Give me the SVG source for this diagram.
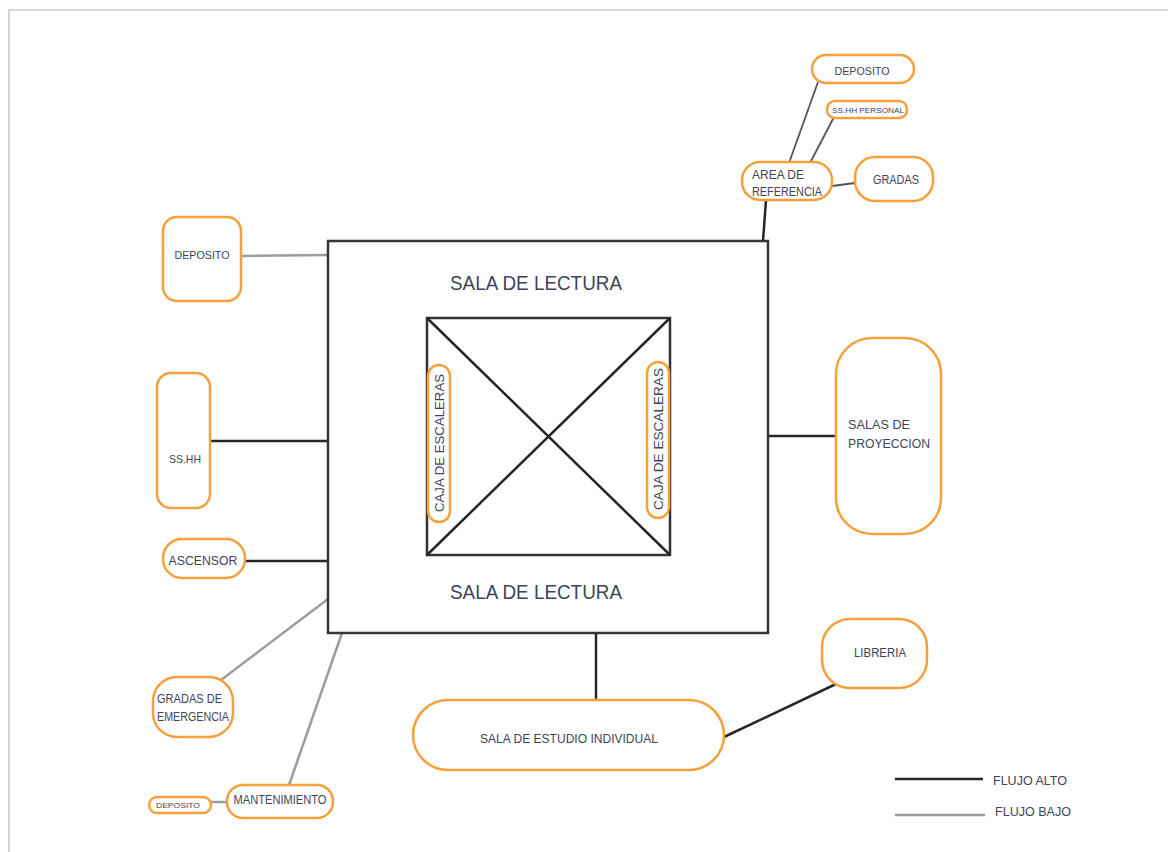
<svg xmlns="http://www.w3.org/2000/svg" width="1168" height="852" viewBox="0 0 1168 852">
<style>
.n{fill:#fff;stroke:#f5a03a;stroke-width:2.5}
.t{font-family:"Liberation Sans",Arial,sans-serif;fill:#3f4459;lengthAdjust:spacingAndGlyphs}
.hi{stroke:#262626;stroke-width:2.5;fill:none}
.lo{stroke:#9c9c9c;stroke-width:2.5;fill:none}
.md{stroke:#555;stroke-width:1.8;fill:none}
.box{fill:#fff;stroke:#333;stroke-width:2.5}
</style>
<rect width="1168" height="852" fill="#fff"/>
<path d="M9 852 V10 H1168" fill="none" stroke="#c8c8c8" stroke-width="1.5"/>

<g id="connectors">
<line class="md" x1="818" y1="82" x2="789" y2="163"/>
<line class="md" x1="834" y1="117" x2="810" y2="163"/>
<line class="md" x1="832" y1="186" x2="855" y2="183"/>
<line class="hi" x1="766" y1="200" x2="763" y2="241"/>
<line class="lo" x1="241" y1="256" x2="328" y2="255"/>
<line class="hi" x1="210" y1="441" x2="328" y2="441"/>
<line class="hi" x1="245" y1="561" x2="328" y2="561"/>
<line class="lo" x1="221" y1="680" x2="328" y2="599"/>
<line class="lo" x1="289" y1="785" x2="342" y2="633"/>
<line class="lo" x1="211" y1="802" x2="227" y2="802"/>
<line class="hi" x1="768" y1="436" x2="836" y2="436"/>
<line class="hi" x1="596" y1="633" x2="596" y2="700"/>
<line class="hi" x1="724" y1="737" x2="836" y2="684"/>
</g>

<g id="sala-lectura">
<rect class="box" x="328" y="241" width="440" height="392"/>
<text class="t" x="536" y="290" font-size="21" text-anchor="middle" textLength="172" lengthAdjust="spacingAndGlyphs">SALA DE LECTURA</text>
<text class="t" x="536" y="599" font-size="21" text-anchor="middle" textLength="172" lengthAdjust="spacingAndGlyphs">SALA DE LECTURA</text>
</g>

<g id="vacio">
<rect class="box" x="427" y="318" width="243" height="237"/>
<line class="hi" x1="427" y1="318" x2="670" y2="555"/>
<line class="hi" x1="670" y1="318" x2="427" y2="555"/>
</g>

<g id="caja-izq">
<rect class="n" x="428" y="365" width="22" height="157" rx="11"/>
<text class="t" transform="translate(444 443) rotate(-90)" font-size="13" text-anchor="middle" textLength="138" lengthAdjust="spacingAndGlyphs">CAJA DE ESCALERAS</text>
</g>
<g id="caja-der">
<rect class="n" x="647" y="362" width="22" height="156" rx="11"/>
<text class="t" transform="translate(663 439) rotate(-90)" font-size="13" text-anchor="middle" textLength="142" lengthAdjust="spacingAndGlyphs">CAJA DE ESCALERAS</text>
</g>

<g id="deposito-sup">
<rect class="n" x="812" y="55" width="102" height="28" rx="14"/>
<text class="t" x="862" y="75" font-size="11" text-anchor="middle" textLength="55" lengthAdjust="spacingAndGlyphs">DEPOSITO</text>
</g>
<g id="sshh-personal">
<rect class="n" x="827" y="101" width="80" height="17" rx="8"/>
<text class="t" x="868" y="112.5" font-size="8" text-anchor="middle" textLength="72" lengthAdjust="spacingAndGlyphs">SS.HH PERSONAL</text>
</g>
<g id="area-referencia">
<rect class="n" x="742" y="162" width="90" height="38" rx="18"/>
<text class="t" x="752" y="179" font-size="12" textLength="52" lengthAdjust="spacingAndGlyphs">AREA DE</text>
<text class="t" x="752" y="196" font-size="12" textLength="70" lengthAdjust="spacingAndGlyphs">REFERENCIA</text>
</g>
<g id="gradas">
<rect class="n" x="855" y="157" width="78" height="44" rx="20"/>
<text class="t" x="896" y="184" font-size="12" text-anchor="middle" textLength="46" lengthAdjust="spacingAndGlyphs">GRADAS</text>
</g>

<g id="deposito-izq">
<rect class="n" x="163" y="217" width="78" height="84" rx="14"/>
<text class="t" x="202" y="259" font-size="11" text-anchor="middle" textLength="55" lengthAdjust="spacingAndGlyphs">DEPOSITO</text>
</g>
<g id="sshh">
<rect class="n" x="157" y="373" width="53" height="135" rx="14"/>
<text class="t" x="185" y="463" font-size="11" text-anchor="middle" textLength="32" lengthAdjust="spacingAndGlyphs">SS.HH</text>
</g>
<g id="ascensor">
<rect class="n" x="163" y="539" width="82" height="39" rx="19"/>
<text class="t" x="203" y="564.5" font-size="13" text-anchor="middle" textLength="69" lengthAdjust="spacingAndGlyphs">ASCENSOR</text>
</g>
<g id="gradas-emergencia">
<rect class="n" x="153" y="677" width="80" height="60" rx="24"/>
<text class="t" x="157" y="703" font-size="12" textLength="65" lengthAdjust="spacingAndGlyphs">GRADAS DE</text>
<text class="t" x="157" y="721" font-size="12" textLength="72" lengthAdjust="spacingAndGlyphs">EMERGENCIA</text>
</g>
<g id="mantenimiento">
<rect class="n" x="227" y="785" width="106" height="33" rx="16"/>
<text class="t" x="280" y="804" font-size="12" text-anchor="middle" textLength="93" lengthAdjust="spacingAndGlyphs">MANTENIMIENTO</text>
</g>
<g id="deposito-inf">
<rect class="n" x="149" y="797" width="62" height="16" rx="8"/>
<text class="t" x="178" y="808" font-size="8" text-anchor="middle" textLength="44" lengthAdjust="spacingAndGlyphs">DEPOSITO</text>
</g>

<g id="salas-proyeccion">
<rect class="n" x="836" y="338" width="105" height="196" rx="36"/>
<text class="t" x="848" y="429" font-size="13" textLength="62" lengthAdjust="spacingAndGlyphs">SALAS DE</text>
<text class="t" x="848" y="448" font-size="13" textLength="82" lengthAdjust="spacingAndGlyphs">PROYECCION</text>
</g>
<g id="estudio-individual">
<rect class="n" x="413" y="700" width="311" height="70" rx="35"/>
<text class="t" x="569" y="743" font-size="12" text-anchor="middle" textLength="178" lengthAdjust="spacingAndGlyphs">SALA DE ESTUDIO INDIVIDUAL</text>
</g>
<g id="libreria">
<rect class="n" x="822" y="619" width="105" height="69" rx="28"/>
<text class="t" x="880" y="657" font-size="12" text-anchor="middle" textLength="52" lengthAdjust="spacingAndGlyphs">LIBRERIA</text>
</g>

<g id="leyenda">
<line class="hi" x1="895" y1="779" x2="983" y2="779"/>
<text class="t" x="993" y="785" font-size="13" textLength="74" lengthAdjust="spacingAndGlyphs">FLUJO ALTO</text>
<line class="lo" x1="895" y1="815" x2="985" y2="815"/>
<text class="t" x="995" y="816" font-size="13" textLength="76" lengthAdjust="spacingAndGlyphs">FLUJO BAJO</text>
</g>
</svg>
